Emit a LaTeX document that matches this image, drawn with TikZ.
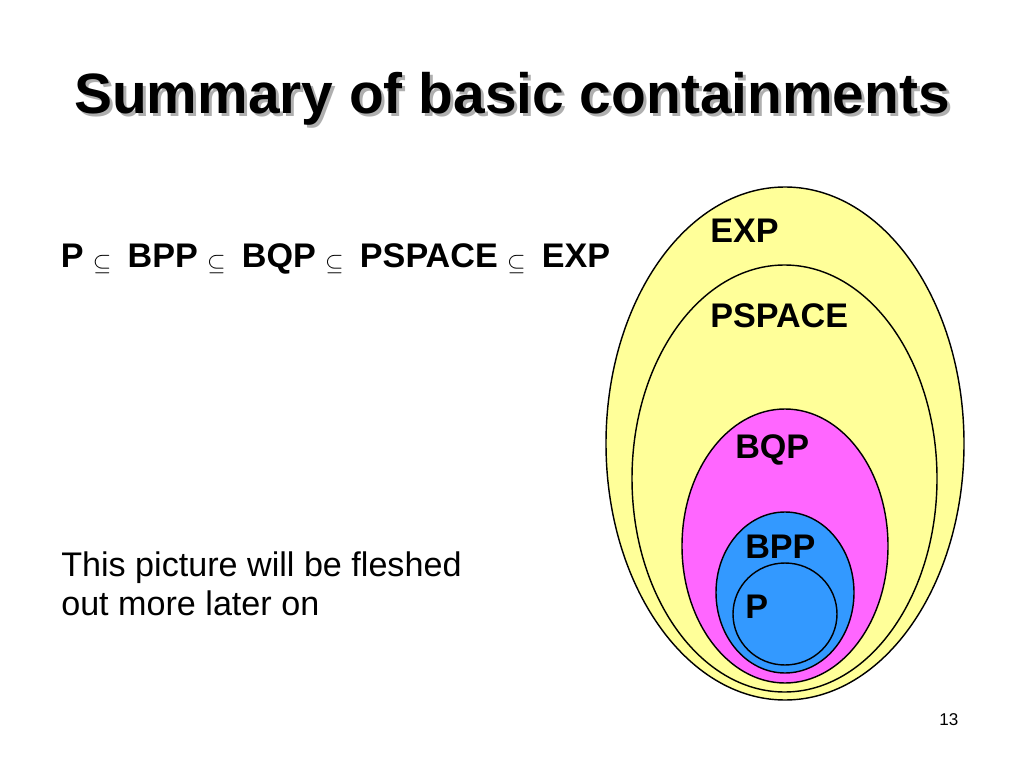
\documentclass[tikz,border=0pt]{standalone}
\usepackage{graphicx}
\usepackage{fontspec}
\setmainfont{Liberation Sans}
\definecolor{expyellow}{RGB}{255,255,153}
\definecolor{bqpmag}{RGB}{255,102,255}
\definecolor{bppblue}{RGB}{51,153,255}
\definecolor{shadowgray}{RGB}{175,175,175}
\newcommand{\mysub}{\hspace{6.5pt}\raisebox{-1.5pt}{\resizebox{13pt}{!}{$\subseteq$}}\hspace{11.5pt}}
\begin{document}
\begin{tikzpicture}[x=0.703125pt,y=-0.703125pt,
  set/.style={draw=black,line width=1pt},
  lbl/.style={anchor=base west,inner sep=0pt,font=\fontsize{24}{29}\selectfont\bfseries},
  body/.style={anchor=base west,inner sep=0pt,font=\fontsize{24}{29}\selectfont},
  ttl/.style={anchor=base,inner sep=0pt,font=\fontsize{40}{48}\selectfont\bfseries}]
\useasboundingbox[fill=white] (0,0) rectangle (1024,768);
% title with shadow
\node[ttl,text=shadowgray] (titleshadow) at (515,117) {Summary of basic containments};
\node[ttl] (title) at (512,114) {Summary of basic containments};
% containment line
\node[lbl] (chain) at (60.5,268) {P\mysub BPP\mysub BQP\mysub PSPACE\mysub EXP};
% comment
\node[body] (note1) at (61,576) {This picture will be fleshed};
\node[body] (note2) at (61,615) {out more later on};
% nested sets
\draw[set,fill=expyellow] (785,443.5) ellipse [x radius=179, y radius=256.5];
\draw[set,fill=expyellow] (784.5,478.5) ellipse [x radius=152.5, y radius=213.5];
\draw[set,fill=bqpmag] (785,546) ellipse [x radius=103, y radius=137];
\draw[set,fill=bppblue] (785,592.5) ellipse [x radius=69, y radius=80.5];
\draw[set] (785,614) ellipse [x radius=52, y radius=51];
\node[lbl] (exp) at (710,243) {EXP};
\node[lbl] (pspace) at (710,328) {PSPACE};
\node[lbl] (bqp) at (735,458) {BQP};
\node[lbl] (bpp) at (745,558) {BPP};
\node[lbl] (p) at (745,618) {P};
% page number
\node[body,font=\fontsize{12}{14}\selectfont] (page) at (939,725) {13};
\end{tikzpicture}
\end{document}
